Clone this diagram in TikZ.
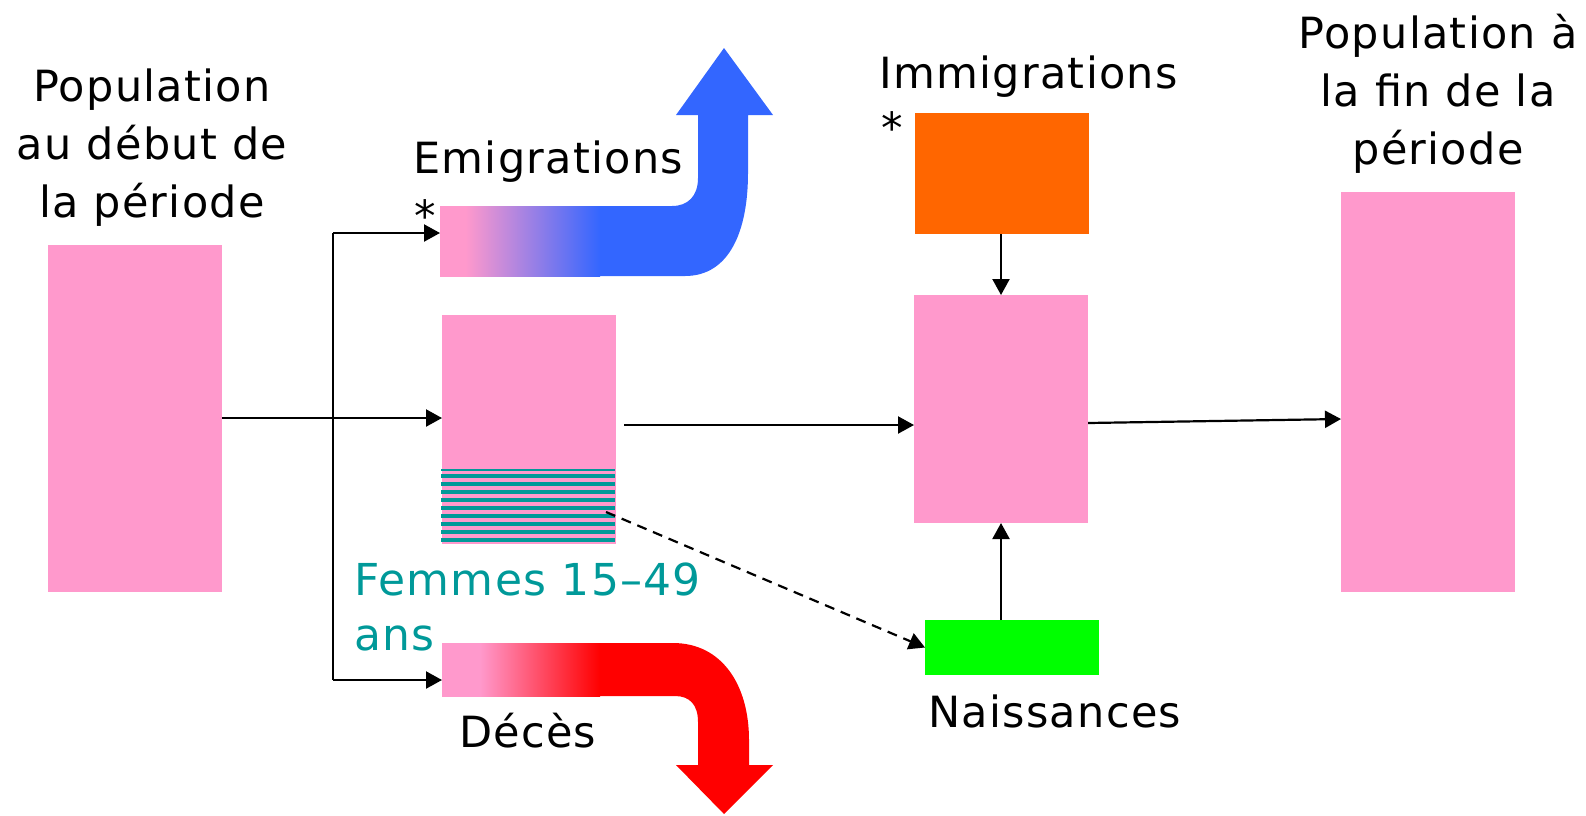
\documentclass[tikz,border=0pt]{standalone}
\usepackage{fontspec}
\setmainfont{DejaVu Sans}[LetterSpace=3]
\usetikzlibrary{arrows.meta}
\definecolor{pinkc}{HTML}{FF99CC}
\definecolor{blueE}{HTML}{3366FF}
\definecolor{redD}{HTML}{FF0000}
\definecolor{orangeI}{HTML}{FF6600}
\definecolor{greenN}{HTML}{00FF00}
\definecolor{tealF}{HTML}{009999}
\pgfdeclarehorizontalshading{emigshade}{100bp}{color(0bp)=(pinkc); color(33bp)=(pinkc); color(75bp)=(blueE); color(100bp)=(blueE)}
\pgfdeclarehorizontalshading{decshade}{100bp}{color(0bp)=(pinkc); color(37bp)=(pinkc); color(75bp)=(redD); color(100bp)=(redD)}
\tikzset{
  box/.style={inner sep=0pt, outer sep=0pt, anchor=north west},
  lbl/.style={inner sep=0pt, font=\fontsize{43}{58}\selectfont},
  arr/.style={line width=2.2pt, -{Triangle[length=16pt,width=17pt]}},
  conn/.style={line width=2.2pt},
}
\begin{document}
\begin{tikzpicture}[x=1pt,y=-1pt]
\useasboundingbox (0,0) rectangle (1586,815);

% boxes
\node[box, fill=pinkc, minimum width=174pt, minimum height=347pt] (L) at (48,245) {};
\node[box, fill=pinkc, minimum width=174pt, minimum height=229pt] (M) at (442,315) {};
\node[box, fill=orangeI, minimum width=174pt, minimum height=121pt] (O) at (915,113) {};
\node[box, fill=pinkc, minimum width=174pt, minimum height=228pt] (C) at (914,295) {};
\node[box, fill=greenN, minimum width=174pt, minimum height=55pt] (G) at (925,620) {};
\node[box, fill=pinkc, minimum width=174pt, minimum height=400pt] (R) at (1341,192) {};

% stripes (Femmes 15-49)
\fill[tealF] (441,469) rectangle (615,470.5);
\foreach \k in {0,...,8} \fill[tealF] (441,{474+8*\k}) rectangle (615,{478+8*\k});

% emigration arrow
\fill[blueE] (598,206) -- (672,206) .. controls (688,206) and (698,196) .. (698,178)
  -- (698,115) -- (676,115) -- (724,48) -- (773,115) -- (748,115) -- (748,173)
  .. controls (748,230) and (730,276) .. (685,276) -- (598,276) -- cycle;
\node[box, shading=emigshade, minimum width=160pt, minimum height=70pt] (E) at (440,206) {};

% deces arrow
\fill[redD] (598,643) -- (673,643) .. controls (722,643) and (749,685) .. (749,740)
  -- (749,765) -- (773,765) -- (724,814) -- (676,765) -- (698,765) -- (698,722)
  .. controls (698,705) and (690,696) .. (675,696) -- (598,696) -- cycle;
\node[box, shading=decshade, minimum width=158pt, minimum height=53pt] (D) at (442,643) {};

% connectors
\coordinate (tTop) at (333,233);
\coordinate (tBot) at (333,680);
\coordinate (lm) at (222,418);
\draw[conn] (tTop) -- (tBot);
\draw[arr] (L.east |- lm) -- (lm -| M.west);
\draw[arr] (tTop) -- (tTop -| E.west);
\draw[arr] (tBot) -- (tBot -| D.west);
\coordinate (mc) at (624,425);
\draw[arr] (mc) -- (mc -| C.west);
\coordinate (cr) at (1088,423);
\coordinate (rl) at (1341,419);
\draw[arr] (cr) -- (rl);
\draw[arr] (C.north |- O.south) -- (C.north);
\draw[arr] (C.south |- G.north) -- (C.south);
\coordinate (fs) at (606,512);
\draw[line width=2.2pt, dash pattern=on 10pt off 7pt, -{Triangle[length=16pt,width=17pt]}] (fs) -- (G.west);

% labels
\node[lbl, align=center, anchor=base] (tL) at (152,217) {Population\\au début de\\la période};
\node[lbl, align=center, anchor=base] (tR) at (1438,164) {Population à\\la fin de la\\période};
\node[lbl, anchor=base west] (tE) at (413,173) {Emigrations};
\node[lbl, anchor=base west] (sE) at (414,231) {*};
\node[lbl, anchor=base west] (tI) at (879,88) {Immigrations};
\node[lbl, anchor=base west] (sI) at (881,143) {*};
\node[lbl, anchor=base west] (tN) at (928,727) {Naissances};
\node[lbl, anchor=base west] (tD) at (459,747) {Décès};
\node[inner sep=0pt, anchor=base west, align=left, text=tealF, font=\fontsize{44}{55}\selectfont] (tF) at (354,650) {Femmes 15–49\\ans};
\end{tikzpicture}
\end{document}
